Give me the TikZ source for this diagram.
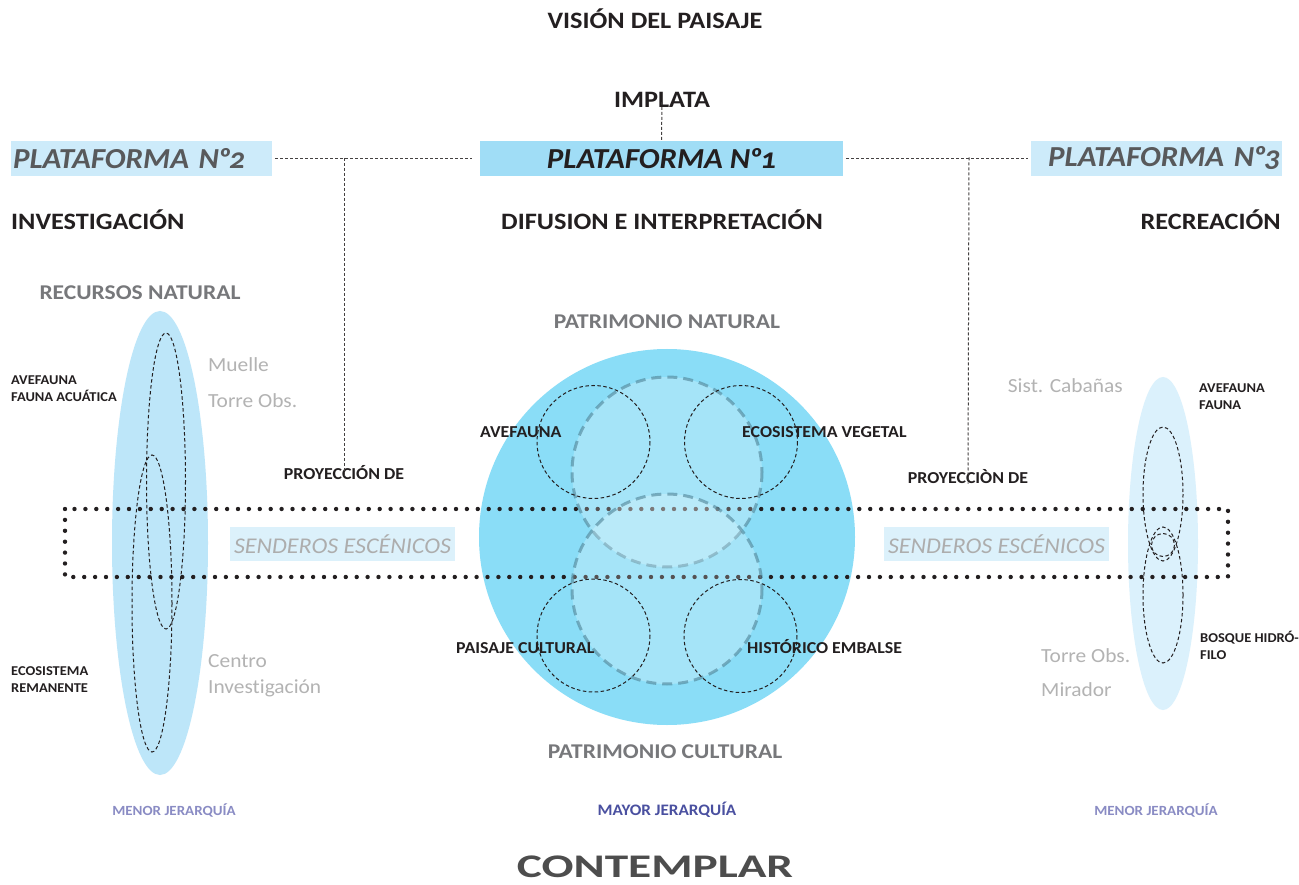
\documentclass[tikz,border=0pt]{standalone}
\usepackage{fontspec}
\setmainfont{Carlito}[FakeStretch=1.07, Ligatures=NoCommon]
\newfontfamily\headfont{Carlito}[FakeStretch=1.12, Ligatures=NoCommon]
\definecolor{darktext}{HTML}{231F20}
\definecolor{greytext}{HTML}{77787B}
\definecolor{lighttext}{HTML}{B3B3B3}
\definecolor{platgrey}{HTML}{58595B}
\definecolor{plat1fill}{HTML}{A0DDF6}
\definecolor{platfill}{HTML}{CDEBFA}
\definecolor{senfill}{HTML}{DCF1FB}
\definecolor{senttext}{HTML}{ADADAD}
\definecolor{bigcircle}{HTML}{8ADDF7}
\definecolor{leftell}{HTML}{BDE6F9}
\definecolor{rightell}{HTML}{DBF1FC}
\definecolor{ringcol}{HTML}{4F8396}
\definecolor{lavender}{HTML}{8A8CC4}
\definecolor{navy}{HTML}{4A50A0}
\definecolor{bottomtext}{HTML}{4D4D4D}
\tikzset{
  boldlbl/.style={font=\headfont\bfseries\fontsize{23.5}{27}\selectfont, text=darktext, inner sep=0pt},
  greylbl/.style={font=\headfont\bfseries\fontsize{21}{25}\selectfont, text=greytext, inner sep=0pt},
  smalllbl/.style={font=\bfseries\fontsize{13.5}{17}\selectfont, text=darktext, inner sep=0pt, align=left},
  midlbl/.style={font=\bfseries\fontsize{16.7}{20}\selectfont, text=darktext, inner sep=0pt},
  lightlbl/.style={font=\fontsize{20}{26}\selectfont, text=lighttext, inner sep=0pt, align=left},
  platbox/.style={minimum height=35pt, inner ysep=0pt, inner xsep=2pt,
     font=\bfseries\itshape\fontsize{29}{33}\selectfont\addfontfeatures{Numbers=OldStyle}},
  senbox/.style={fill=senfill, minimum width=225pt, minimum height=34pt, inner sep=0pt,
     font=\itshape\fontsize{22.5}{27}\selectfont, text=senttext},
  conn/.style={draw=darktext!85, line width=1pt, dash pattern=on 3pt off 2pt},
  thindash/.style={draw=darktext, line width=1pt, dash pattern=on 3.5pt off 2.5pt},
  ringdash/.style={draw=ringcol, draw opacity=0.6, fill=white, fill opacity=0.23,
     line width=3pt, dash pattern=on 10pt off 6pt},
  dotline/.style={draw=darktext, line width=4.4pt, line cap=round, dash pattern=on 0pt off 10.9pt},
  hier/.style={font=\bfseries\fontsize{14}{16}\selectfont, inner sep=0pt}
}
\newcommand{\numo}{N\kern-1.5pt º\kern-2pt}
\begin{document}
\begin{tikzpicture}[x=1pt,y=-1pt]
\useasboundingbox[fill=white] (0,0) rectangle (1299,885);

% ---- background shapes
\fill[leftell] (160,543) ellipse [x radius=48, y radius=232];
\fill[rightell] (1163,543.5) ellipse [x radius=35, y radius=166.5];
\fill[bigcircle] (667,537) circle [radius=188];

% ---- dotted band
\draw[dotline] (65,509) rectangle (1228,577);

% ---- central rings
\draw[ringdash] (667,472) circle [radius=95];
\draw[ringdash] (667,589) circle [radius=95];

% ---- small dashed circles
\draw[thindash] (593.5,442) circle [radius=56.5];
\draw[thindash] (741,442) circle [radius=56.5];
\draw[thindash] (593.5,635.5) circle [radius=56.5];
\draw[thindash] (740.5,636) circle [radius=56.5];

% ---- dashed ellipses left
\draw[thindash] (166,481) ellipse [x radius=19.5, y radius=148];
\draw[thindash] (152,603.5) ellipse [x radius=20, y radius=148.5];
% ---- dashed ellipses right
\draw[thindash] (1163,494) ellipse [x radius=20, y radius=67];
\draw[thindash] (1163,595) ellipse [x radius=20, y radius=68];
\draw[thindash] (1163,545) circle [radius=11.5];

% ---- titles
\node[boldlbl] (title) at (655,19) {VISIÓN DEL PAISAJE};
\node[boldlbl] (impl) at (662,100) {IMPLATA};

% ---- platforms
\node[platbox, fill=plat1fill, minimum width=363pt, text=darktext] (p1) at (661.5,158.5) {PLATAFORMA \numo1};
\node[platbox, fill=platfill, text width=257pt, align=left, text=platgrey] (p2) at (141.5,158.5) {PLATAFORMA \numo2};
\node[platbox, fill=platfill, text width=247pt, align=right, text=platgrey] (p3) at (1156.5,158.5) {PLATAFORMA \numo3};

\coordinate (j1) at (344,158);
\coordinate (j2) at (969,157.5);

\draw[conn] ([yshift=6pt]impl.south) -- (p1.north);
\draw[conn, shorten <=3pt, shorten >=8pt] (p2.east) -- (p1.west);
\draw[conn, shorten <=3pt, shorten >=3pt] (p1.east) -- (p3.west);

% ---- section headings
\node[boldlbl, anchor=west] (inv) at (11,220) {INVESTIGACIÓN};
\node[boldlbl] (dif) at (662,220) {DIFUSION E INTERPRETACIÓN};
\node[boldlbl, anchor=east] (rec) at (1281,220) {RECREACIÓN};

\node[greylbl] (recnat) at (140,293) {RECURSOS NATURAL};
\node[greylbl] (patnat) at (667,322) {PATRIMONIO NATURAL};
\node[greylbl] (patcul) at (665,752) {PATRIMONIO CULTURAL};

% ---- left side labels
\node[smalllbl, anchor=west] (avef1) at (11,388.5) {AVEFAUNA\\FAUNA ACUÁTICA};
\node[smalllbl, anchor=west] (eco1) at (11,680) {ECOSISTEMA\\REMANENTE};
\node[lightlbl, anchor=west] (muelle) at (208,365) {Muelle};
\node[lightlbl, anchor=west] (torre1) at (208,401) {Torre Obs.};
\node[lightlbl, anchor=west] (centro) at (208,676) {Centro\\Investigación};

% ---- projections
\node[midlbl] (proj1) at (344,473) {PROYECCIÓN DE};
\node[midlbl] (proj2) at (968,477) {PROYECCIÒN DE};
\draw[conn] (j1) -- ([yshift=-10pt]proj1.north);
\draw[conn] (j2) -- ([yshift=-14pt]proj2.north);

% ---- senderos
\node[senbox] (sen1) at (342.5,544) {SENDEROS ESCÉNICOS};
\node[senbox] (sen2) at (996.5,544) {SENDEROS ESCÉNICOS};

% ---- center labels
\node[midlbl, anchor=west] (avef2) at (480,432) {AVEFAUNA};
\node[midlbl, anchor=west] (ecov) at (742,432) {ECOSISTEMA VEGETAL};
\node[midlbl, anchor=west] (paisaje) at (456,648) {PAISAJE CULTURAL};
\node[midlbl, anchor=west] (hist) at (747,647) {HISTÓRICO EMBALSE};

% ---- right side labels
\node[lightlbl, anchor=east] (cab) at (1123,386) {Sist. Cabañas};
\node[smalllbl, anchor=west] (avef3) at (1199,397) {AVEFAUNA\\FAUNA};
\node[smalllbl, anchor=west] (bosque) at (1200,645.5) {BOSQUE HIDRÓ-\\FILO};
\node[lightlbl, anchor=west] (torre2) at (1041,656) {Torre Obs.};
\node[lightlbl, anchor=west] (mirador) at (1041,690) {Mirador};

% ---- bottom
\node[hier, text=lavender] (men1) at (174,810) {MENOR JERARQUÍA};
\node[hier, text=navy, font=\bfseries\fontsize{16}{18}\selectfont] (may) at (667,810) {MAYOR JERARQUÍA};
\node[hier, text=lavender] (men2) at (1156,810) {MENOR JERARQUÍA};
\node[inner sep=0pt, text=bottomtext, font=\bfseries\fontsize{33}{36}\selectfont] (cont) at (655,867) {\scalebox{1.34}[1]{CONTEMPLAR}};
\end{tikzpicture}
\end{document}
